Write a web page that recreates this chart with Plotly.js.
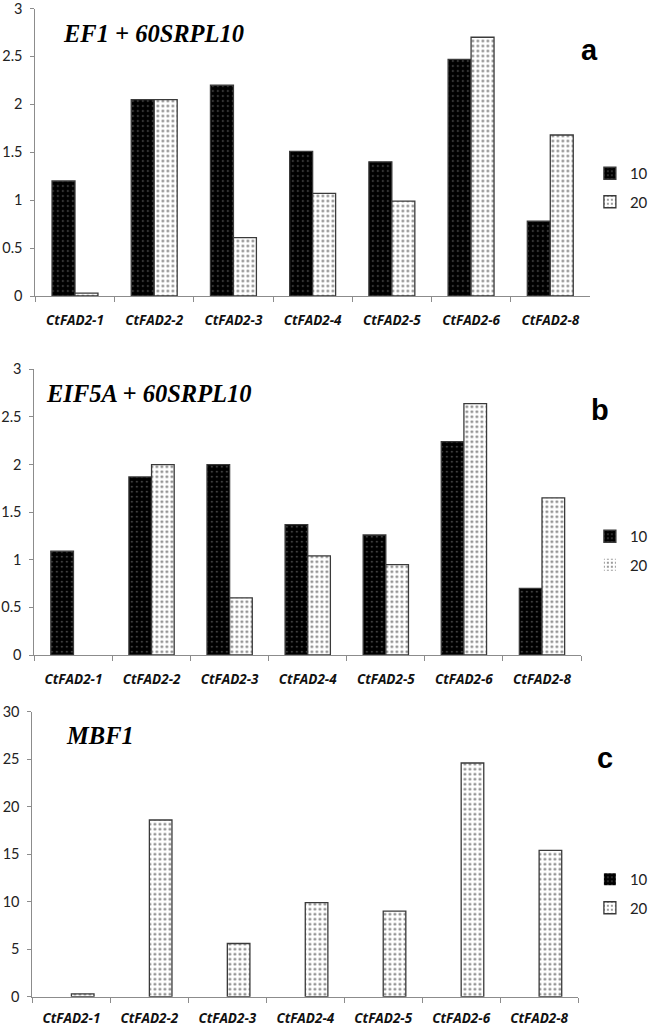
<!DOCTYPE html>
<html>
<head>
<meta charset="utf-8">
<script src="https://cdn.plot.ly/plotly-3.0.1.min.js"></script>
<style>html,body{margin:0;padding:0;background:#fff;}#chart{width:653px;height:1027px;}</style>
</head>
<body>
<div id="chart"></div>
<script>
// ---- data ----
const categories = ['CtFAD2-1','CtFAD2-2','CtFAD2-3','CtFAD2-4','CtFAD2-5','CtFAD2-6','CtFAD2-8'];
const seriesNames = ['10','20'];
const panelTitles = ['EF1 + 60SRPL10','EIF5A + 60SRPL10','MBF1'];
const panelLetters = ['a','b','c'];
const ef1_10   = [1.20, 2.05, 2.20, 1.51, 1.40, 2.47, 0.78];
const ef1_20   = [0.03, 2.05, 0.61, 1.07, 0.99, 2.70, 1.68];
const eif5a_10 = [1.09, 1.87, 2.00, 1.37, 1.26, 2.24, 0.70];
const eif5a_20 = [0.00, 2.00, 0.60, 1.04, 0.95, 2.64, 1.65];
const mbf1_10  = [0, 0, 0, 0, 0, 0, 0];
const mbf1_20  = [0.3, 18.6, 5.6, 9.9, 9.0, 24.6, 15.4];

// ---- styling ----
const W = 653, H = 1027;
const px = v => v / W;
const py = v => 1 - v / H;

const darkPattern  = {shape: '.', bgcolor: '#000000', fgcolor: '#808080', size: 5, solidity: 0.08, fillmode: 'replace'};
const lightPattern = {shape: '.', bgcolor: '#ffffff', fgcolor: '#7a7a7a', size: 5, solidity: 0.2, fillmode: 'replace'};
const lineFor = vals => ({color: '#3a3a3a', width: vals.map(v => v > 0 ? 1.3 : 0)});

const panels = [
  {v10: ef1_10, v20: ef1_20, xa: 'x', ya: 'y', leg: 'legend'},
  {v10: eif5a_10, v20: eif5a_20, xa: 'x2', ya: 'y2', leg: 'legend2'},
  {v10: mbf1_10, v20: mbf1_20, xa: 'x3', ya: 'y3', leg: 'legend3'}
];

const traces = [];
panels.forEach((p, i) => {
  traces.push({type: 'bar', x: categories, y: p.v10, name: seriesNames[0], xaxis: p.xa, yaxis: p.ya,
    legend: p.leg, legendgroup: 'g10_' + i,
    marker: {color: '#000', pattern: darkPattern, line: lineFor(p.v10)}, hoverinfo: 'skip'});
  traces.push({type: 'bar', x: categories, y: p.v20, name: seriesNames[1], xaxis: p.xa, yaxis: p.ya,
    legend: p.leg, legendgroup: 'g20_' + i,
    marker: {color: '#fff', pattern: lightPattern, line: lineFor(p.v20)}, hoverinfo: 'skip'});
});

const axisLine = '#8c8c8c';
function xAxis(domain, anchor, standoff) {
  return {domain: domain, anchor: anchor, type: 'category', showline: true, linecolor: axisLine, linewidth: 1,
    ticks: 'outside', tickson: 'boundaries', ticklen: 5, tickcolor: axisLine, showgrid: false, zeroline: false,
    ticklabelstandoff: standoff,
    tickfont: {family: '"Open Sans", Lato, sans-serif', size: 13.5, color: '#111', weight: 'bold', style: 'italic'},
    fixedrange: true};
}
function yAxis(domain, anchor, range, dtick) {
  return {domain: domain, anchor: anchor, range: range, dtick: dtick, showline: true, linecolor: axisLine, linewidth: 1,
    ticks: 'outside', ticklen: 4, tickcolor: axisLine, showgrid: false, zeroline: false,
    ticklabelstandoff: 5, ticklabeloverflow: 'allow',
    tickfont: {family: 'Lato, "Open Sans", sans-serif', size: 14.5, color: '#222'}, fixedrange: true};
}

const legendFont = {family: 'Lato, "Open Sans", sans-serif', size: 15, color: '#222'};
function legendAt(xPx, yTopPx) {
  return {x: px(xPx), y: py(yTopPx), xanchor: 'left', yanchor: 'top', xref: 'paper', yref: 'paper',
    font: legendFont, bgcolor: 'rgba(0,0,0,0)', tracegroupgap: 6, itemwidth: 30, traceorder: 'grouped'};
}

const titleFont = {family: '"Liberation Serif", "Times New Roman", serif', size: 24.5, color: '#000', weight: 'bold', style: 'italic'};
const letterFont = {family: '"Liberation Sans", Arial, sans-serif', size: 29, color: '#000', weight: 'bold'};

const annotations = [
  {text: panelTitles[0], x: px(62), y: py(33)},
  {text: panelTitles[1], x: px(45), y: py(393)},
  {text: panelTitles[2], x: px(65), y: py(735)}
].map(a => Object.assign(a, {xref: 'paper', yref: 'paper', showarrow: false, xanchor: 'left', yanchor: 'middle',
  align: 'left', font: titleFont}));
[
  {text: panelLetters[0], x: px(600), y: py(50)},
  {text: panelLetters[1], x: px(610), y: py(410)},
  {text: panelLetters[2], x: px(615), y: py(758)}
].forEach(a => annotations.push(Object.assign(a, {xref: 'paper', yref: 'paper', showarrow: false,
  xanchor: 'center', yanchor: 'middle', font: letterFont})));

const layout = {
  width: W, height: H,
  margin: {l: 0, r: 0, t: 0, b: 0},
  paper_bgcolor: '#fff', plot_bgcolor: '#fff',
  barmode: 'group', bargap: 0.42, bargroupgap: 0,
  showlegend: true,
  xaxis:  xAxis([px(36), px(600)], 'y', 12),
  yaxis:  yAxis([py(296), py(8.5)], 'x', [0, 3], 0.5),
  xaxis2: xAxis([px(35), px(591)], 'y2', 12),
  yaxis2: yAxis([py(655), py(369.3)], 'x2', [0, 3], 0.5),
  xaxis3: xAxis([px(33), px(588)], 'y3', 9),
  yaxis3: yAxis([py(996.7), py(711.7)], 'x3', [0, 30], 5),
  legend:  legendAt(600, 157),
  legend2: legendAt(600, 520),
  legend3: legendAt(600, 863),
  annotations: annotations
};

Plotly.newPlot('chart', traces, layout, {displayModeBar: false, staticPlot: true});
</script>
</body>
</html>
